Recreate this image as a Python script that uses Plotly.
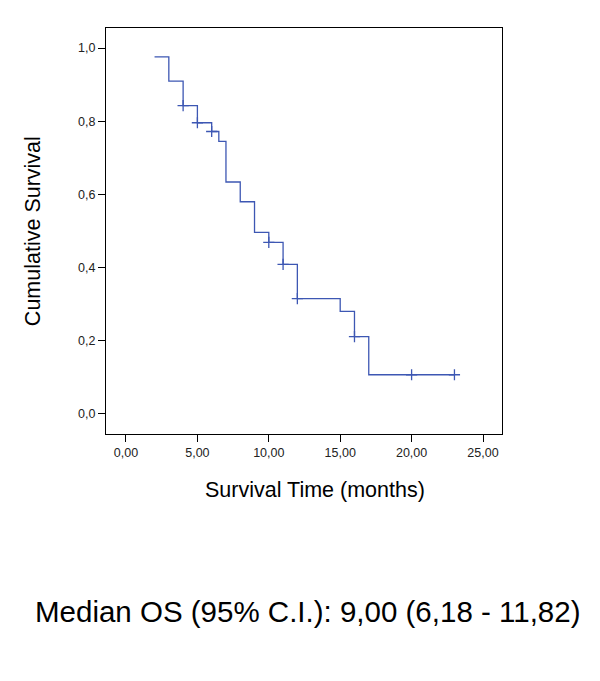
import plotly.graph_objects as go

# Kaplan-Meier step curve (time in months, cumulative survival)
step_time = [2, 3, 4, 5, 6, 6.5, 7, 8, 9, 10, 11, 12, 15, 16, 17, 23]
step_surv = [0.976, 0.910, 0.843, 0.796, 0.772, 0.745, 0.634, 0.580, 0.496,
             0.469, 0.409, 0.315, 0.280, 0.211, 0.107, 0.107]

# censored observations
cens_time = [4, 5, 6, 10, 11, 12, 16, 20, 23]
cens_surv = [0.843, 0.796, 0.772, 0.469, 0.409, 0.315, 0.211, 0.107, 0.107]

x_ticks = [0, 5, 10, 15, 20, 25]
x_labels = ['0,00', '5,00', '10,00', '15,00', '20,00', '25,00']
y_ticks = [0, 0.2, 0.4, 0.6, 0.8, 1.0]
y_labels = ['0,0', '0,2', '0,4', '0,6', '0,8', '1,0']

blue = '#3D57B3'
font = 'Liberation Sans, Arial, sans-serif'

fig = go.Figure()
fig.add_trace(go.Scatter(x=step_time, y=step_surv, mode='lines',
                         line=dict(color=blue, width=1.3, shape='hv'),
                         hoverinfo='skip'))
fig.add_trace(go.Scatter(x=cens_time, y=cens_surv, mode='markers',
                         marker=dict(symbol='cross-thin', size=8,
                                     line=dict(color=blue, width=1.3)),
                         hoverinfo='skip'))

axis_common = dict(showgrid=False, zeroline=False, showline=True,
                   linecolor='black', linewidth=1, mirror=True,
                   ticks='outside', ticklen=7, tickcolor='black',
                   tickfont=dict(family=font, size=12.5, color='#222'))

# page has an 8px body margin, so the figure is a bit smaller than the window
fig.update_layout(
    width=592, height=673,
    margin=dict(l=98, r=98, t=20, b=247),
    paper_bgcolor='white', plot_bgcolor='white',
    showlegend=False,
    xaxis=dict(range=[-1.4, 26.33], tickvals=x_ticks, ticktext=x_labels,
               **axis_common),
    yaxis=dict(range=[-0.055, 1.055], tickvals=y_ticks, ticktext=y_labels,
               **axis_common),
    font=dict(family=font),
)

fig.add_annotation(text='Cumulative Survival', xref='paper', yref='paper',
                   x=-0.184, y=0.5, xanchor='center', yanchor='middle',
                   textangle=-90, showarrow=False,
                   font=dict(family=font, size=21.5, color='black'))
fig.add_annotation(text='Survival Time (months)', xref='paper', yref='paper',
                   x=0.528, y=-0.138, xanchor='center', yanchor='middle',
                   showarrow=False,
                   font=dict(family=font, size=21.5, color='black'))
fig.add_annotation(text='Median OS (95% C.I.): 9,00 (6,18 - 11,82)',
                   xref='paper', yref='paper',
                   x=0.508, y=-0.436, xanchor='center', yanchor='middle',
                   showarrow=False,
                   font=dict(family=font, size=29.5, color='black'))

fig.write_html('out.html')
